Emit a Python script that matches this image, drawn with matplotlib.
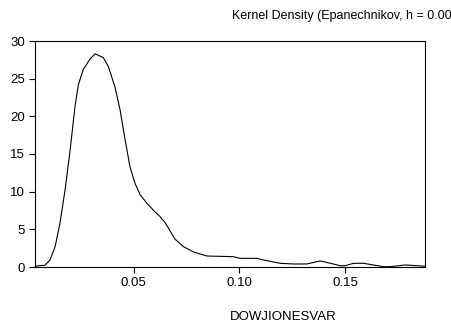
import matplotlib
matplotlib.use("Agg")
import matplotlib.pyplot as plt

plt.rcParams['font.family'] = ['Liberation Sans', 'DejaVu Sans']

# kernel density estimate
xs = [0.0034, 0.0081, 0.0105, 0.0129, 0.0152, 0.0176, 0.0200, 0.0223, 0.0239, 0.0262,
      0.0294, 0.0318, 0.0357, 0.0381, 0.0412, 0.0436, 0.0460, 0.0483, 0.0507, 0.0531,
      0.0562, 0.0602, 0.0625, 0.0649, 0.0696, 0.0736, 0.0783,
      0.0846, 0.0972, 0.1004, 0.1083, 0.1114, 0.1193, 0.1256, 0.1319, 0.1382, 0.1430,
      0.1477, 0.1500, 0.1540, 0.1587, 0.1682, 0.1713, 0.1784, 0.1824, 0.1884]
dens = [0.13, 0.23, 0.93, 2.7, 5.8, 10.2, 15.5, 21.3, 24.2, 26.2,
        27.6, 28.3, 27.8, 26.6, 23.9, 20.9, 16.9, 13.3, 11.1, 9.6,
        8.5, 7.3, 6.7, 5.9, 3.7, 2.7, 2.0,
        1.46, 1.37, 1.15, 1.15, 0.93, 0.49, 0.4, 0.4, 0.8, 0.5,
        0.17, 0.17, 0.49, 0.49, 0.04, 0.04, 0.27, 0.2, 0.1]

xticks = [0.05, 0.10, 0.15]
yticks = [0, 5, 10, 15, 20, 25, 30]

fig = plt.figure(figsize=(4.52, 3.24), dpi=100)
ax = fig.add_axes([35/452, 1-267/324, 390/452, 226/324])
ax.plot(xs, dens, color='black', lw=0.8)
ax.set_xlim(0.0034, 0.1878)
ax.set_ylim(0, 30)
ax.set_xticks(xticks)
ax.set_xticklabels(["%.2f" % t for t in xticks])
ax.set_yticks(yticks)
ax.tick_params(direction='out', length=4, width=0.8, labelsize=9.5, pad=3)
for s in ax.spines.values():
    s.set_linewidth(0.8)

# the reference title is cut at the right edge, keep the visible part
fig.text(232/452, 1-19.5/324, "Kernel Density (Epanechnikov, h = 0.00",
         fontsize=9, ha='left', va='baseline')
fig.text(230/452, 1-320/324, "DOWJIONESVAR", fontsize=9.5, ha='left', va='baseline')

fig.savefig("out.png", dpi=100)
